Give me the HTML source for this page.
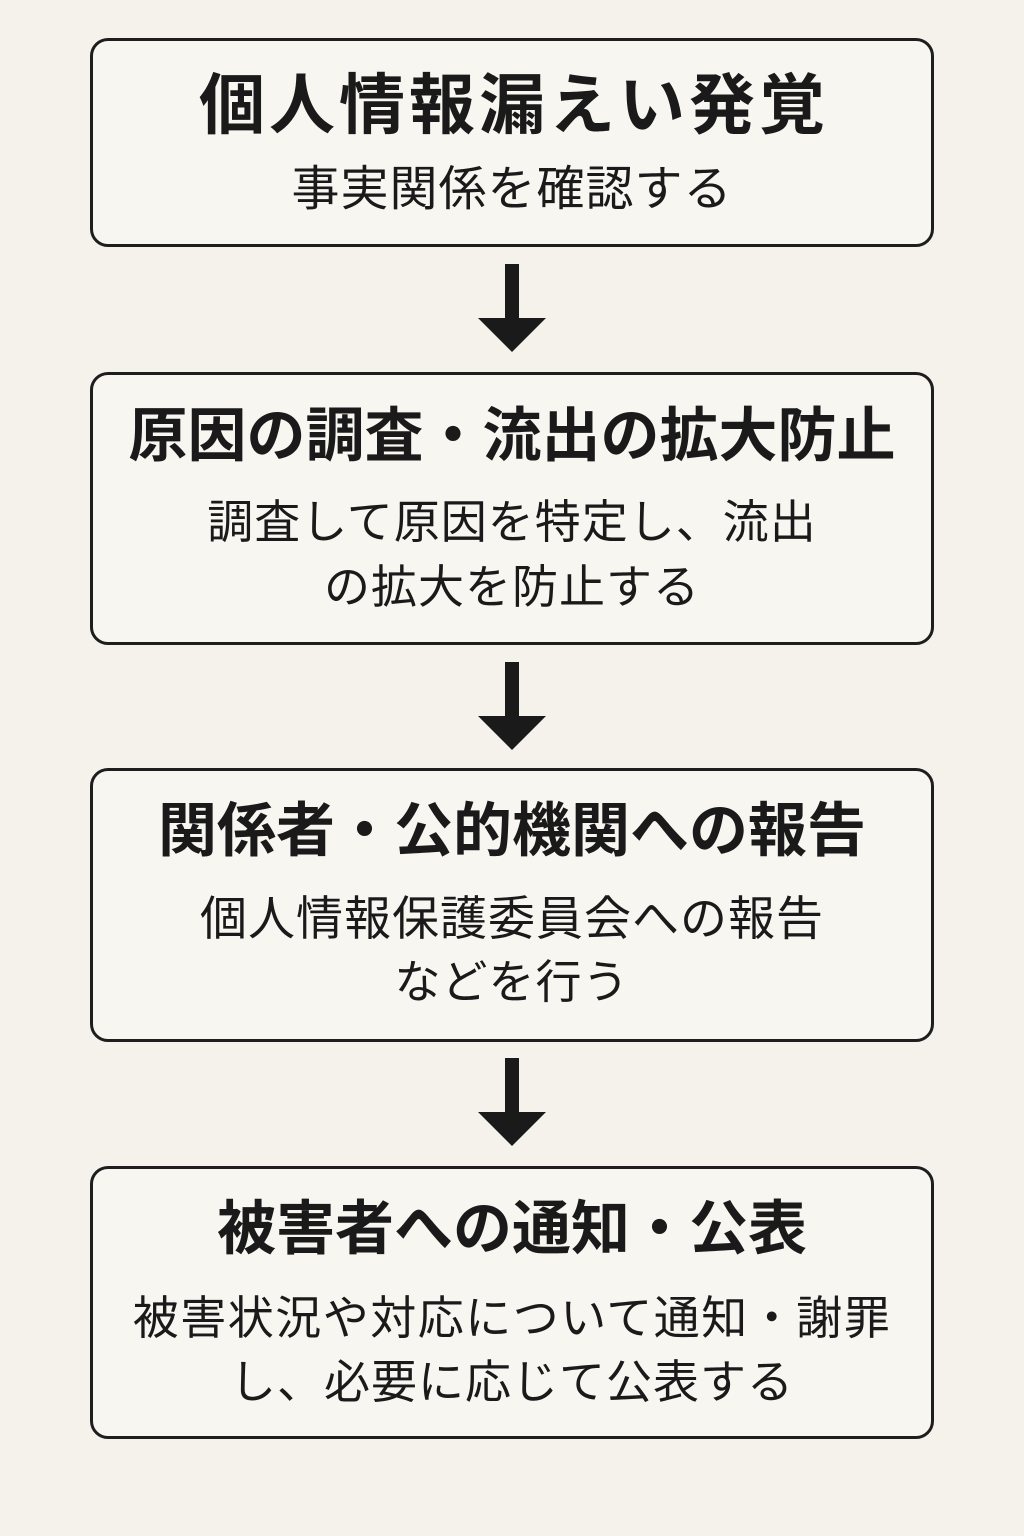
<!DOCTYPE html>
<html><head><meta charset="utf-8"><style>
html,body{margin:0;padding:0}
body{width:1024px;height:1536px;background:#f5f2ec;position:relative;overflow:hidden;font-family:"Liberation Sans","Noto Sans CJK JP",sans-serif;color:#1a1a1a}
.box{position:absolute;left:90px;width:838px;border:3px solid #1e1e1e;border-radius:18px;background:#f8f6f1}
.t{position:absolute;left:0;width:1024px;text-align:center;white-space:nowrap;line-height:1}
.h{font-weight:700;font-size:59px}
.s{font-size:46px;font-weight:400;letter-spacing:1px}
.arr{position:absolute;left:478px;width:68px}
</style></head><body>
<div class="box" style="top:38px;height:203px"></div>
<div class="box" style="top:372px;height:267px"></div>
<div class="box" style="top:768px;height:268px"></div>
<div class="box" style="top:1166px;height:267px"></div>

<div class="t h" style="top:72px;font-size:66px;letter-spacing:4px;text-indent:4px">個人情報漏えい発覚</div>
<div class="t s" style="top:166px;font-size:48px;letter-spacing:1px">事実関係を確認する</div>

<div class="t h" style="top:407px">原因の調査・流出の拡大防止</div>
<div class="t s" style="top:499px">調査して原因を特定し、流出</div>
<div class="t s" style="top:564px">の拡大を防止する</div>

<div class="t h" style="top:802px">関係者・公的機関への報告</div>
<div class="t s" style="top:895px;font-size:47px">個人情報保護委員会への報告</div>
<div class="t s" style="top:959px">などを行う</div>

<div class="t h" style="top:1200px">被害者への通知・公表</div>
<div class="t s" style="top:1295px;font-size:46px;letter-spacing:1.5px">被害状況や対応について通知・謝罪</div>
<div class="t s" style="top:1359px">し、必要に応じて公表する</div>

<svg class="arr" style="top:264px" height="90" viewBox="0 0 68 90"><rect x="27" y="0" width="14" height="56" fill="#1a1a1a"/><polygon points="0,54 68,54 34,88" fill="#1a1a1a"/></svg>
<svg class="arr" style="top:662px" height="90" viewBox="0 0 68 90"><rect x="27" y="0" width="14" height="56" fill="#1a1a1a"/><polygon points="0,54 68,54 34,88" fill="#1a1a1a"/></svg>
<svg class="arr" style="top:1058px" height="90" viewBox="0 0 68 90"><rect x="27" y="0" width="14" height="56" fill="#1a1a1a"/><polygon points="0,54 68,54 34,88" fill="#1a1a1a"/></svg>
</body></html>
